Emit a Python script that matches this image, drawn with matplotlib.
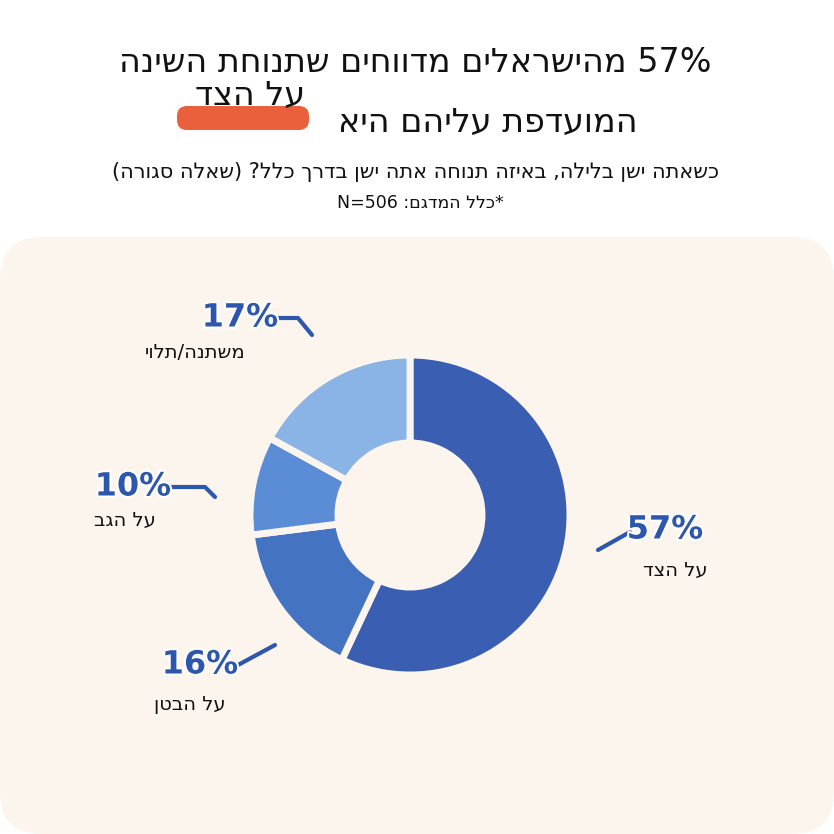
import re
import matplotlib
matplotlib.use("Agg")
from matplotlib import pyplot as plt
from matplotlib.patches import FancyBboxPatch
import matplotlib.patheffects as pe

labels = ["על הצד", "על הבטן", "על הגב", "משתנה/תלוי"]
values = [57, 16, 10, 17]
colors = ["#3a5eb2", "#4473c2", "#5b8dd6", "#8ab3e6"]
title_1 = "57% מהישראלים מדווחים שתנוחת השינה"
title_2 = "המועדפת עליהם היא"
title_hl = "על הצד"
subtitle = "כשאתה ישן בלילה, באיזה תנוחה אתה ישן בדרך כלל? (שאלה סגורה)"
note = "*כלל המדגם: N=506"

MIRROR = {"(": ")", ")": "("}

def vis(s):
    # logical rtl text -> visual order, keeping latin/number runs intact
    tokens = re.findall(r"[A-Za-z0-9%=.]+|.", s)
    out = []
    for t in reversed(tokens):
        out.append(MIRROR.get(t, t))
    return "".join(out)

W = 834
fig = plt.figure(figsize=(8.34, 8.34), dpi=100)
fig.patch.set_facecolor("white")

def px(x, y):
    return x / W, 1 - y / W

# beige panel
panel = FancyBboxPatch(px(0, 834), 834 / W, (834 - 237) / W,
                       boxstyle="round,pad=0,rounding_size=0.05",
                       transform=fig.transFigure, facecolor="#fbf5ee", edgecolor="none",
                       zorder=-5)
fig.patches.append(panel)

fig.text(*px(415, 62), vis(title_1), ha="center", va="center", fontsize=24, color="#111")
hl = FancyBboxPatch(px(177, 130), 132 / W, 24 / W,
                    boxstyle="round,pad=0,rounding_size=0.012",
                    transform=fig.transFigure, facecolor="#ea5f3c", edgecolor="none")
fig.patches.append(hl)
fig.text(*px(250, 95), vis(title_hl), ha="center", va="center", fontsize=24, color="#111")
fig.text(*px(488, 122), vis(title_2), ha="center", va="center", fontsize=24, color="#111")
fig.text(*px(415, 172), vis(subtitle), ha="center", va="center", fontsize=15, color="#111")
fig.text(*px(420, 203), vis(note), ha="center", va="center", fontsize=12.5, color="#111")

# donut
cx, cy, r = 410, 515, 200
ax = fig.add_axes([(cx - r) / W, 1 - (cy + r) / W, 2 * r / W, 2 * r / W])
ax.set_zorder(2)
ax.patch.set_visible(False)
ax.pie(values, colors=colors, startangle=90, counterclock=False,
       wedgeprops=dict(width=0.55, edgecolor="#fbf5ee", linewidth=5))
ax.set_aspect("equal")
ax.axis("off")

lab_pos = [((665, 530), (675, 570), [(630, 532), (598, 550)]),
           ((200, 665), (190, 705), [(238, 665), (275, 645)]),
           ((133, 487), (125, 520), [(168, 487), (205, 487), (215, 497)]),
           ((240, 318), (195, 352), [(275, 318), (298, 318), (312, 335)])]
for v, lab, (pp, lp, line) in zip(values, labels, lab_pos):
    fig.text(*px(*pp), f"{v}%", ha="center", va="center", fontsize=23, fontweight="bold",
             color="#2d56ad", zorder=5,
             path_effects=[pe.withStroke(linewidth=3, foreground="white")])
    fig.text(*px(*lp), vis(lab), ha="center", va="center", fontsize=14, color="#111", zorder=5)
    xs = [p[0] / W for p in line]
    ys = [1 - p[1] / W for p in line]
    ln = plt.Line2D(xs, ys, transform=fig.transFigure, color="#2d56ad", lw=3,
                    solid_capstyle="round", zorder=5)
    fig.add_artist(ln)

fig.savefig("out.png", dpi=100)
